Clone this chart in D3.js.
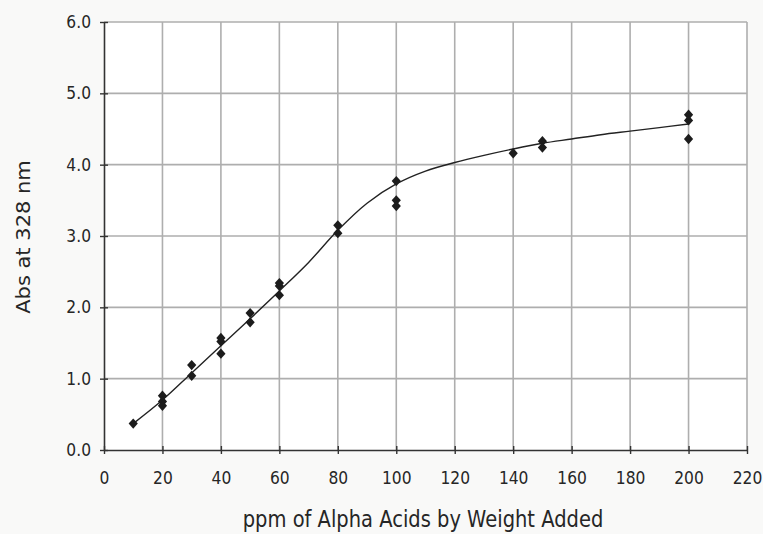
<!DOCTYPE html>
<html>
<head>
<meta charset="utf-8">
<script src="https://cdn.jsdelivr.net/npm/d3@7"></script>
<style>
  html, body { margin: 0; padding: 0; background: #f9f9f8; }
  svg { display: block; }
  text { font-family: "DejaVu Sans", Verdana, sans-serif; fill: #262626; }
</style>
</head>
<body>
<svg id="chart" width="763" height="534"></svg>
<script>
// Measured absorbance (replicates) at each alpha-acid dose
const sampleX = [10, 20, 20, 20, 30, 30, 40, 40, 40, 50, 50, 60, 60, 60,
                 80, 80, 100, 100, 100, 140, 150, 150, 200, 200, 200];
const sampleY = [0.37, 0.76, 0.68, 0.62, 1.19, 1.04, 1.57, 1.52, 1.35, 1.92, 1.79, 2.34, 2.30, 2.17,
                 3.15, 3.04, 3.77, 3.50, 3.42, 4.16, 4.33, 4.24, 4.70, 4.62, 4.36];

// Smoothed response curve
const curveX = [10, 20, 30, 40, 50, 60, 70, 80, 90, 100, 110, 120, 130, 140, 150, 160, 170, 180, 190, 200];
const curveY = [0.37, 0.70, 1.08, 1.46, 1.84, 2.23, 2.63, 3.08, 3.46, 3.73, 3.91, 4.03, 4.13, 4.22, 4.30, 4.36, 4.42, 4.47, 4.52, 4.57];

const xTicks = [0, 20, 40, 60, 80, 100, 120, 140, 160, 180, 200, 220];
const yTicks = [0, 1, 2, 3, 4, 5, 6];

const xTitle = "ppm of Alpha Acids by Weight Added";
const yTitle = "Abs at 328 nm";

const svg = d3.select("#chart");
const m = { left: 104, right: 747, top: 22, bottom: 450 };
const stretch = 1.14; // glyphs are drawn a little taller than wide

const x = d3.scaleLinear().domain([0, 220]).range([m.left, m.right]);
const y = d3.scaleLinear().domain([0, 6]).range([m.bottom, m.top]);

// plot background
svg.append("rect")
  .attr("x", m.left).attr("y", m.top)
  .attr("width", m.right - m.left).attr("height", m.bottom - m.top)
  .attr("fill", "#ffffff");

// gridlines
const grid = svg.append("g");
grid.selectAll("line.v").data(xTicks.slice(1)).join("line")
  .attr("x1", d => x(d)).attr("x2", d => x(d))
  .attr("y1", m.top).attr("y2", m.bottom)
  .attr("stroke", "#aeaeae").attr("stroke-width", 1.6);
grid.selectAll("line.h").data(yTicks.slice(1)).join("line")
  .attr("x1", m.left).attr("x2", m.right)
  .attr("y1", d => y(d)).attr("y2", d => y(d))
  .attr("stroke", "#aeaeae").attr("stroke-width", 1.6);

// axes
const xAxis = d3.axisBottom(x).tickValues(xTicks).tickFormat(d3.format("d"))
  .tickSizeInner(4).tickSizeOuter(0);
const yAxis = d3.axisLeft(y).tickValues(yTicks).tickFormat(d3.format(".1f"))
  .tickSizeInner(4).tickSizeOuter(0);

const gx = svg.append("g").attr("transform", `translate(0,${m.bottom})`).call(xAxis);
const gy = svg.append("g").attr("transform", `translate(${m.left},0)`).call(yAxis);

[gx, gy].forEach(g => {
  g.select(".domain").attr("stroke", "#333").attr("stroke-width", 1.6);
  g.selectAll(".tick line").attr("stroke", "#333").attr("stroke-width", 1.4);
  g.selectAll(".tick text").attr("font-size", 15.5).attr("fill", "#262626")
    .attr("font-family", "\"DejaVu Sans\", Verdana, sans-serif")
    .attr("transform", `scale(1,${stretch})`);
});
// ticks cross the axis line
gx.selectAll(".tick line").attr("y1", -4).attr("y2", 4);
gy.selectAll(".tick line").attr("x1", -4).attr("x2", 4);
gx.selectAll(".tick text").attr("y", 34 / stretch).attr("dy", 0);
gy.selectAll(".tick text").attr("x", -13);

// smoothed curve
const line = d3.line()
  .x((d, i) => x(curveX[i]))
  .y(d => y(d))
  .curve(d3.curveCatmullRom.alpha(0.5));
svg.append("path")
  .attr("d", line(curveY))
  .attr("fill", "none")
  .attr("stroke", "#222")
  .attr("stroke-width", 1.4);

// diamond markers
const diamondType = {
  draw(ctx, size) {
    const w = Math.sqrt(size) / 2, h = w * 1.12;
    ctx.moveTo(0, -h); ctx.lineTo(w, 0); ctx.lineTo(0, h); ctx.lineTo(-w, 0); ctx.closePath();
  }
};
const diamond = d3.symbol().type(diamondType).size(85);
svg.append("g").selectAll("path").data(sampleY).join("path")
  .attr("d", diamond)
  .attr("transform", (d, i) => `translate(${x(sampleX[i])},${y(d)})`)
  .attr("fill", "#1c1c1c");

// axis titles
svg.append("g")
  .attr("transform", `translate(423,527) scale(1,${stretch})`)
  .append("text")
  .attr("text-anchor", "middle")
  .attr("font-size", 19.5)
  .text(xTitle);

svg.append("g")
  .attr("transform", `translate(30,237) rotate(-90) scale(1.05,1)`)
  .append("text")
  .attr("text-anchor", "middle")
  .attr("font-family", "\"Liberation Sans\", Arial, sans-serif")
  .attr("font-size", 20)
  .text(yTitle);
</script>
</body>
</html>
